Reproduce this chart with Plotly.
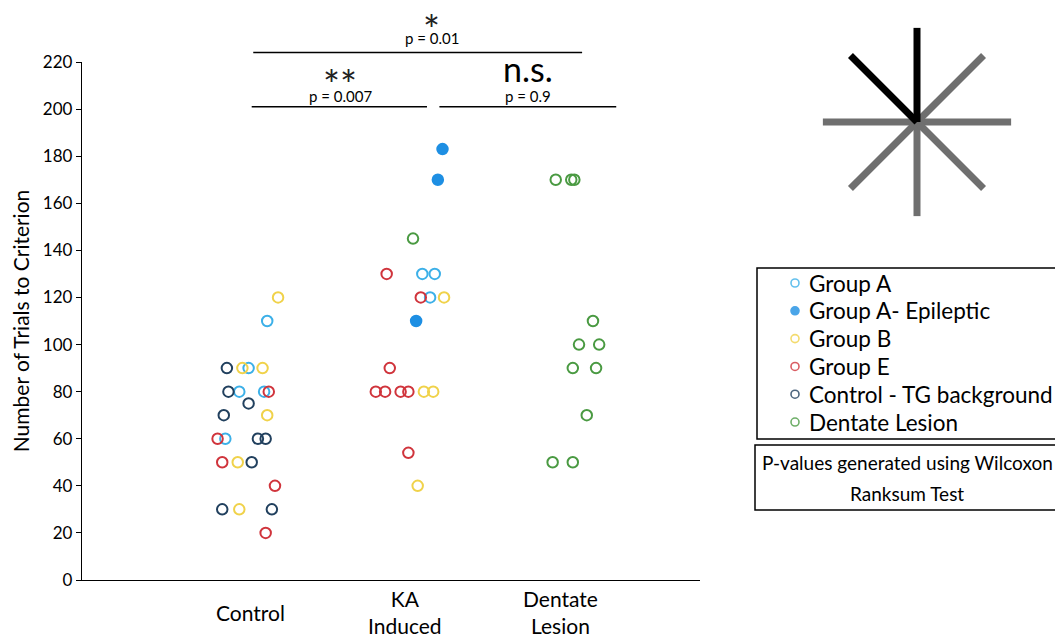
import plotly.graph_objects as go
import math

# ---------------- data ----------------
categories = ["Control", "KA<br>Induced", "Dentate<br>Lesion"]
category_pos = [1, 2, 3]
y_ticks = [0, 20, 40, 60, 80, 100, 120, 140, 160, 180, 200, 220]

group_names = ["Group A", "Group A- Epileptic", "Group B", "Group E",
               "Control - TG background", "Dentate Lesion"]
group_colors = ["#3cb0e8", "#1e8fe3", "#f0d24a", "#d0343c", "#21405e", "#4a9a42"]
group_filled = [False, True, False, False, False, False]

group_a_x = [1.11, 0.99, 0.93, 1.09, 0.84, 2.11, 2.19, 2.16]
group_a_y = [110, 90, 80, 80, 60, 130, 130, 120]

group_a_epi_x = [2.24, 2.21, 2.07]
group_a_epi_y = [183, 170, 110]

group_b_x = [1.18, 0.95, 1.08, 1.11, 0.92, 0.93, 2.25, 2.12, 2.18, 2.08]
group_b_y = [120, 90, 90, 70, 50, 30, 120, 80, 80, 40]

group_e_x = [1.12, 0.79, 0.82, 1.16, 1.10, 1.88, 2.10, 1.90, 1.81, 1.87, 1.97, 2.02, 2.02]
group_e_y = [80, 60, 50, 40, 20, 130, 120, 90, 80, 80, 80, 80, 54]

control_tg_x = [0.85, 0.86, 0.99, 0.83, 1.05, 1.10, 1.01, 0.82, 1.14]
control_tg_y = [90, 80, 75, 70, 60, 60, 50, 30, 30]

dentate_x = [2.05, 2.97, 3.07, 3.09, 3.21, 3.12, 3.25, 3.08, 3.23, 3.17, 2.95, 3.08]
dentate_y = [145, 170, 170, 170, 110, 100, 100, 90, 90, 70, 50, 50]

# significance comparisons
sig_x0 = [1.01, 2.22, 1.02]
sig_x1 = [2.14, 3.36, 3.14]
sig_y = [201, 201, 224]
sig_star = ["**", "n.s.", "*"]
sig_star_y = [214.0, 215.5, 237.5]
sig_p = ["p = 0.007", "p = 0.9", "p = 0.01"]
sig_p_y = [205.5, 205.5, 230.0]
sig_text_x = [1.58, 2.79, 2.17]

note_lines = ["P-values generated using Wilcoxon", "Ranksum Test"]

FONT = "Lato"
Y_MAX = 220
OFF = 8                       # page offset of the figure (body margin)
L, T = 82 - OFF, 20 - OFF     # margins
B = 642 - (580 - OFF)
W_PLOT = 1063 - L             # plot-area width (r = 0)
H_PLOT = 642 - T - B          # plot-area height


def px_x(p):   # page x pixel -> paper x
    return (p - OFF - L) / W_PLOT


def px_y(p):   # page y pixel -> paper y
    return (642 - B - (p - OFF)) / H_PLOT


Y_DOM = px_y(62)


def ypaper(v):
    return v / Y_MAX * Y_DOM


fig = go.Figure()

series = [(group_a_x, group_a_y), (group_a_epi_x, group_a_epi_y), (group_b_x, group_b_y),
          (group_e_x, group_e_y), (control_tg_x, control_tg_y), (dentate_x, dentate_y)]

for (xs, ys), name, col, filled in zip(series, group_names, group_colors, group_filled):
    fig.add_trace(go.Scatter(
        x=xs, y=ys, mode="markers", name=name, showlegend=False,
        marker=dict(symbol="circle" if filled else "circle-open", size=10.5,
                    color=col, line=dict(width=2, color=col)),
        cliponaxis=False))

# ---- legend (drawn on its own hidden axes) ----
for i, (name, col, filled) in enumerate(zip(group_names, group_colors, group_filled)):
    fig.add_trace(go.Scatter(
        x=[38], y=[i], mode="markers", xaxis="x3", yaxis="y3", showlegend=False,
        hoverinfo="skip",
        marker=dict(symbol="circle" if filled else "circle-open", size=8,
                    color=col, opacity=0.8, line=dict(width=1.6, color=col))))
    fig.add_annotation(xref="x3", yref="y3", x=50, y=i, text=name, showarrow=False,
                       xanchor="left", yanchor="middle",
                       font=dict(family=FONT, size=22.5, color="black"))
fig.add_shape(type="rect", xref="x3 domain", yref="y3 domain", x0=0, x1=1.05, y0=0, y1=1,
              line=dict(color="black", width=1.5))

# ---- star icon on its own small axes ----
arms = []
for k in range(8):
    ang = k * 45
    arms.append((ang, "#000000" if ang in (90, 135) else "#6f6f6f"))
arms.sort(key=lambda t: t[1] != "#6f6f6f")
for ang, col in arms:
    a = math.radians(ang)
    fig.add_trace(go.Scatter(
        x=[0, math.cos(a)], y=[0, math.sin(a)], mode="lines",
        line=dict(color=col, width=7), xaxis="x2", yaxis="y2",
        showlegend=False, hoverinfo="skip"))

# ---- significance bars ----
for x0, x1, yv, st, sy, pt, py, tx in zip(sig_x0, sig_x1, sig_y, sig_star, sig_star_y,
                                          sig_p, sig_p_y, sig_text_x):
    yp = ypaper(yv)
    fig.add_shape(type="line", xref="x", yref="paper", x0=x0, x1=x1, y0=yp, y1=yp,
                  line=dict(color="black", width=1.5))
    fig.add_annotation(xref="x", yref="paper", x=tx, y=ypaper(py), text=pt,
                       showarrow=False, yanchor="middle",
                       font=dict(family=FONT, size=15, color="black"))
    if st == "n.s.":
        fig.add_annotation(xref="x", yref="paper", x=tx, y=ypaper(sy), text=st,
                           showarrow=False, yanchor="middle", yshift=4,
                           font=dict(family=FONT, size=34, color="black"))
    else:
        fig.add_annotation(xref="x", yref="paper", x=tx, y=ypaper(sy), text=st,
                           showarrow=False, yanchor="middle", yshift=-9,
                           font=dict(family=FONT, size=40, color="#222222"))

# ---- p-value note box ----
fig.add_shape(type="rect", xref="paper", yref="paper", x0=px_x(755), x1=1.05,
              y0=px_y(510), y1=px_y(445), line=dict(color="black", width=1.5))
for j, line in enumerate(note_lines):
    fig.add_annotation(xref="paper", yref="paper", x=px_x(907), y=px_y(462 + 31 * j),
                       text=line, showarrow=False, xanchor="center", yanchor="middle",
                       font=dict(family=FONT, size=19, color="black"))

# ---- category labels ----
for pos, lab in zip(category_pos, categories):
    fig.add_annotation(xref="x", yref="paper", x=pos, y=px_y(612), text=lab,
                       showarrow=False, xanchor="center", yanchor="middle",
                       font=dict(family=FONT, size=21, color="black"))

fig.update_layout(
    width=1063, height=642,
    margin=dict(l=L, r=0, t=T, b=B),
    paper_bgcolor="white", plot_bgcolor="white",
    font=dict(family=FONT, size=17, color="black"),
    showlegend=False,
    xaxis=dict(domain=[0, px_x(700)], range=[-0.084, 3.9], showgrid=False, zeroline=False,
               showline=True, linecolor="black", linewidth=1.3, automargin=False,
               showticklabels=False, ticks=""),
    yaxis=dict(domain=[0, Y_DOM], range=[0, Y_MAX], showgrid=False, zeroline=False,
               showline=True, linecolor="black", linewidth=1.3, automargin=False,
               tickvals=y_ticks, ticks="outside", ticklen=5, tickwidth=1.3,
               tickcolor="black", tickfont=dict(family=FONT, size=17),
               title=dict(text="Number of Trials to Criterion",
                          font=dict(family=FONT, size=21), standoff=9)),
    xaxis2=dict(domain=[px_x(917 - 96), px_x(917 + 96)], range=[-1.02, 1.02],
                visible=False, anchor="y2", fixedrange=True),
    yaxis2=dict(domain=[px_y(122 + 96), px_y(122 - 96)], range=[-1.02, 1.02],
                visible=False, anchor="x2", fixedrange=True),
    xaxis3=dict(domain=[px_x(757), 1.0], range=[0, 1063 - 757 + OFF], visible=False,
                anchor="y3", fixedrange=True),
    yaxis3=dict(domain=[px_y(439), px_y(268)], range=[5.61, -0.54],
                visible=False, anchor="x3", fixedrange=True),
)

fig.write_html("out.html")
